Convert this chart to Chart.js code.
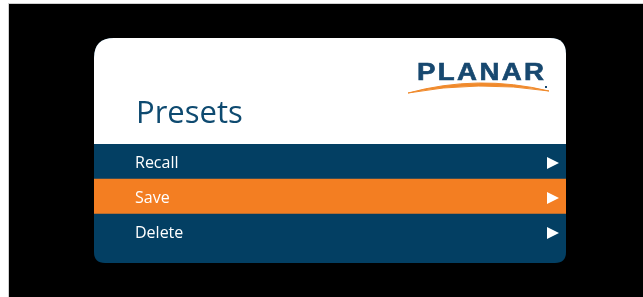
<!DOCTYPE html>
<html>
<head>
<meta charset="utf-8">
<script src="https://cdn.jsdelivr.net/npm/chart.js@4"></script>
<style>
  html, body { margin: 0; padding: 0; background: #fff; }
  #wrap { width: 643px; height: 297px; }
</style>
</head>
<body>
<div id="wrap"><canvas id="menuChart" width="643" height="297"></canvas></div>
<script>
// menu data
var menuItems = ['Recall', 'Save', 'Delete'];
var rowValues = [1, 1, 1];
var selectedItem = 'Save';
var titleText = 'Presets';
var logoText = 'PLANAR';

var NAVY = '#033f63';
var ORANGE = '#f37e22';

function roundRect(c, x, y, w, h, r) {
    // r = [tl, tr, br, bl]
    c.beginPath();
    c.moveTo(x + r[0], y);
    c.lineTo(x + w - r[1], y);
    c.quadraticCurveTo(x + w, y, x + w, y + r[1]);
    c.lineTo(x + w, y + h - r[2]);
    c.quadraticCurveTo(x + w, y + h, x + w - r[2], y + h);
    c.lineTo(x + r[3], y + h);
    c.quadraticCurveTo(x, y + h, x, y + h - r[3]);
    c.lineTo(x, y + r[0]);
    c.quadraticCurveTo(x, y, x + r[0], y);
    c.closePath();
}

// background, card and header
var cardBackground = {
    id: 'cardBackground',
    beforeDraw: function (chart) {
        var c = chart.ctx;
        var a = chart.chartArea;
        c.save();
        c.fillStyle = '#ffffff';
        c.fillRect(0, 0, 643, 297);
        c.fillStyle = '#cfcfcf';
        c.fillRect(8, 3, 635, 294);
        c.fillStyle = '#000000';
        c.fillRect(9, 4, 634, 293);

        var top = 38, bottom = 263;
        // card body (navy bottom)
        c.fillStyle = NAVY;
        roundRect(c, a.left, top, a.right - a.left, bottom - top, [20, 16, 11, 11]);
        c.fill();
        // white header
        c.fillStyle = '#ffffff';
        roundRect(c, a.left, top, a.right - a.left, a.top - top, [20, 16, 0, 0]);
        c.fill();

        // title
        c.fillStyle = '#0e4a70';
        c.font = '31px "Open Sans", "Noto Sans", sans-serif';
        c.textBaseline = 'alphabetic';
        c.fillText(titleText, 136, 123);

        // logo
        c.save();
        c.fillStyle = '#17486f';
        c.font = '900 23px "Liberation Sans", Arial, sans-serif';
        c.letterSpacing = '2px';
        c.translate(417, 80);
        c.scale(1.2, 1);
        c.fillText(logoText, 0, 0);
        c.strokeStyle = '#17486f';
        c.lineWidth = 0.6;
        c.strokeText(logoText, 0, 0);
        c.restore();
        // swoosh
        c.fillStyle = '#f08a2c';
        c.beginPath();
        c.moveTo(408, 93);
        c.quadraticCurveTo(478, 74, 549, 91);
        c.quadraticCurveTo(478, 80, 408, 93);
        c.closePath();
        c.fill();
        c.strokeStyle = '#f08a2c';
        c.lineWidth = 1;
        c.stroke();
        c.fillStyle = '#17486f';
        c.fillRect(545, 86, 2, 2);
        c.restore();
    }
};

// row labels and arrows
var rowLabels = {
    id: 'rowLabels',
    afterDatasetsDraw: function (chart) {
        var c = chart.ctx;
        var y = chart.scales.y;
        var a = chart.chartArea;
        c.save();
        c.fillStyle = '#ffffff';
        c.font = '16px "Open Sans", "Noto Sans", sans-serif';
        c.textBaseline = 'middle';
        menuItems.forEach(function (name, i) {
            var py = y.getPixelForValue(i) + 1.5;
            c.fillText(name, 135, py);
            c.beginPath();
            c.moveTo(a.right - 19, py - 6);
            c.lineTo(a.right - 7, py);
            c.lineTo(a.right - 19, py + 6);
            c.closePath();
            c.fill();
        });
        c.restore();
    }
};

var ctx = document.getElementById('menuChart');
var menuChart = new Chart(ctx, {
    type: 'bar',
    data: {
        labels: menuItems,
        datasets: [{
            data: rowValues,
            backgroundColor: menuItems.map(function (m) { return m === selectedItem ? ORANGE : NAVY; }),
            borderWidth: 0,
            categoryPercentage: 1,
            barPercentage: 1
        }]
    },
    options: {
        indexAxis: 'y',
        responsive: false,
        animation: false,
        layout: { padding: { left: 94, right: 77, top: 144, bottom: 48 } },
        plugins: { legend: { display: false }, tooltip: { enabled: false } },
        scales: {
            x: { display: false, min: 0, max: 1 },
            y: { display: false }
        }
    },
    plugins: [cardBackground, rowLabels]
});
</script>
</body>
</html>
